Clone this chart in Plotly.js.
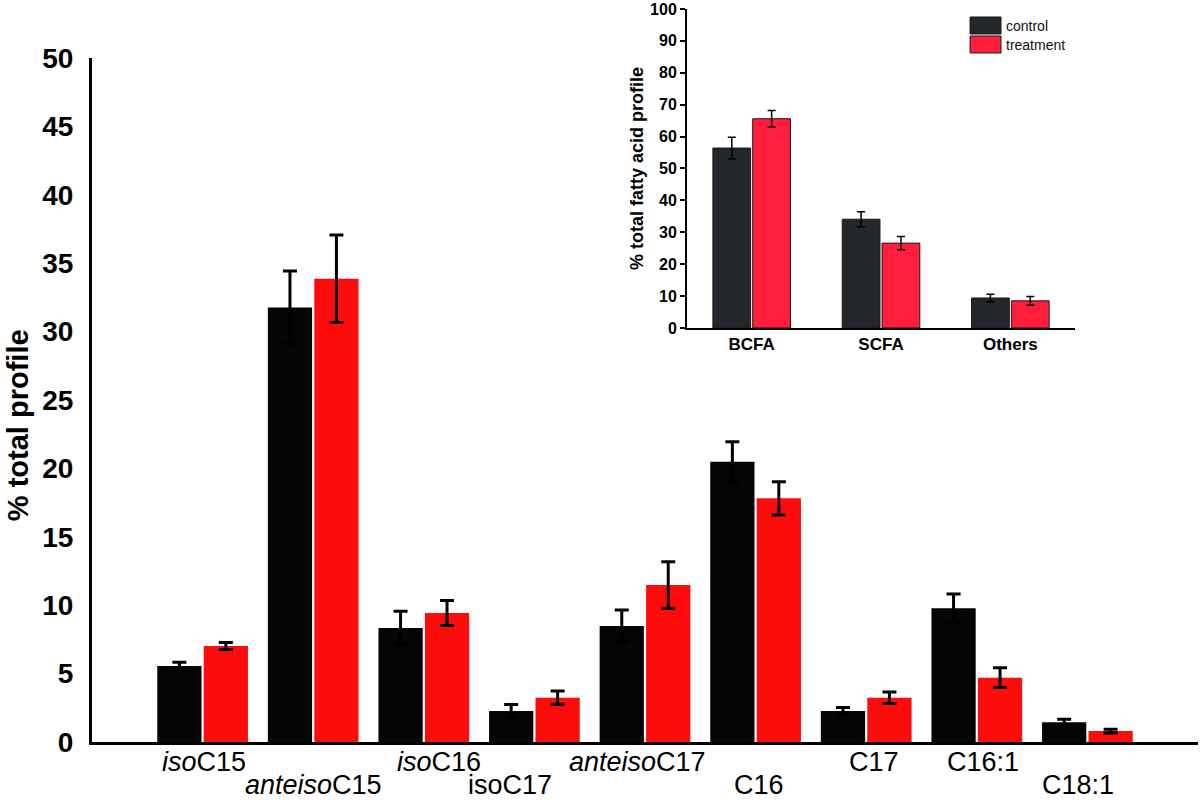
<!DOCTYPE html>
<html>
<head>
<meta charset="utf-8">
<script src="https://cdn.plot.ly/plotly-3.0.1.min.js"></script>
<style>html,body{margin:0;padding:0;background:#fff;}#chart{width:1200px;height:801px;}</style>
</head>
<body>
<div id="chart"></div>
<script>
// ---- main chart data ----
const categories = ['isoC15','anteisoC15','isoC16','isoC17','anteisoC17','C16','C17','C16:1','C18:1'];
const categoryLabels = ['<i>iso</i>C15','<i>anteiso</i>C15','<i>iso</i>C16','isoC17','<i>anteiso</i>C17','C16','C17','C16:1','C18:1'];
const controlValues = [5.56, 31.77, 8.33, 2.27, 8.48, 20.49, 2.27, 9.77, 1.44];
const controlErrors = [0.27, 2.66, 1.22, 0.48, 1.17, 1.46, 0.26, 1.04, 0.22];
const treatmentValues = [7.02, 33.87, 9.43, 3.24, 11.48, 17.81, 3.24, 4.70, 0.80];
const treatmentErrors = [0.26, 3.20, 0.92, 0.48, 1.70, 1.22, 0.42, 0.72, 0.14];
const yTickValues = [0, 5, 10, 15, 20, 25, 30, 35, 40, 45, 50];
const yTitle = '% total profile';

// ---- inset data ----
const insetCategories = ['BCFA','SCFA','Others'];
const insetControl = [56.4, 34.1, 9.4];
const insetControlErr = [3.4, 2.35, 1.15];
const insetTreatment = [65.6, 26.6, 8.5];
const insetTreatmentErr = [2.6, 2.1, 1.4];
const insetTickValues = [0, 10, 20, 30, 40, 50, 60, 70, 80, 90, 100];
const insetYTitle = '% total fatty acid profile';
const seriesNames = ['control', 'treatment'];

// ---- styling ----
const FONT = '"Liberation Sans", Arial, Helvetica, sans-serif';
const labelRows = [1,2,1,2,1,2,1,1,2];
const labelShift = [1, 0, 15, -24, -8, 3, 8, 6, -9];

const traces = [
  {type:'bar', x:categories, y:controlValues, name:seriesNames[0], xaxis:'x', yaxis:'y',
   width:0.4, offset:-0.41, marker:{color:'#050505'}, showlegend:false,
   error_y:{type:'data', array:controlErrors, visible:true, color:'#000', thickness:3, width:7}},
  {type:'bar', x:categories, y:treatmentValues, name:seriesNames[1], xaxis:'x', yaxis:'y',
   width:0.4, offset:0.01, marker:{color:'#fe0b0b'}, showlegend:false,
   error_y:{type:'data', array:treatmentErrors, visible:true, color:'#000', thickness:3, width:7}},
  {type:'bar', x:insetCategories, y:insetControl, name:seriesNames[0], xaxis:'x2', yaxis:'y2',
   width:0.292, offset:-0.30, marker:{color:'#23272b', line:{color:'#1a1a1a', width:1}}, showlegend:false,
   error_y:{type:'data', array:insetControlErr, visible:true, color:'#000', thickness:1.5, width:4}},
  {type:'bar', x:insetCategories, y:insetTreatment, name:seriesNames[1], xaxis:'x2', yaxis:'y2',
   width:0.292, offset:0.008, marker:{color:'#ff1e3c', line:{color:'#1a1a1a', width:1}}, showlegend:false,
   error_y:{type:'data', array:insetTreatmentErr, visible:true, color:'#000', thickness:1.5, width:4}}
];

const annotations = categories.map((c, i) => ({
  x: c, xref:'x', y:0, yref:'paper', yanchor:'middle', xanchor:'center',
  yshift: labelRows[i] === 1 ? -20 : -43, xshift: labelShift[i],
  text: categoryLabels[i], showarrow:false,
  font:{family:FONT, size:27, color:'#000'}
}));
// main y-axis title
annotations.push({x:0, xref:'paper', xshift:-74, y:0.427, yref:'paper', xanchor:'center', yanchor:'middle',
  textangle:-90, text:'<b>' + yTitle + '</b>', showarrow:false, font:{family:FONT, size:29, color:'#000'}});
// legend texts
annotations.push({x:0.8246, xref:'paper', y:0.9656, yref:'paper', xanchor:'left', yanchor:'middle',
  text:seriesNames[0], showarrow:false, font:{family:FONT, size:14, color:'#111'}});
annotations.push({x:0.8246, xref:'paper', y:0.940, yref:'paper', xanchor:'left', yanchor:'middle',
  text:seriesNames[1], showarrow:false, font:{family:FONT, size:14, color:'#111'}});

const shapes = [
  {type:'rect', xref:'paper', yref:'paper', x0:0.7939, x1:0.8219, y0:0.9542, y1:0.9771,
   fillcolor:'#23272b', line:{color:'#1a1a1a', width:1}},
  {type:'rect', xref:'paper', yref:'paper', x0:0.7939, x1:0.8219, y0:0.9286, y1:0.9515,
   fillcolor:'#ff1e3c', line:{color:'#1a1a1a', width:1}}
];

const layout = {
  width:1200, height:801,
  margin:{l:92, r:2, t:0, b:59},
  paper_bgcolor:'#fff', plot_bgcolor:'rgba(0,0,0,0)',
  barmode:'group',
  showlegend:false,
  font:{family:FONT, color:'#000'},
  xaxis:{domain:[0,1], anchor:'y', type:'category', range:[-1, 9], showticklabels:false,
    showline:true, linecolor:'#000', linewidth:3, ticks:'', showgrid:false, zeroline:false, fixedrange:true},
  yaxis:{domain:[0, 0.9218], anchor:'x', range:[0, 50], tickvals:yTickValues, ticktext:yTickValues.map(String), ticks:'',
    showline:true, linecolor:'#000', linewidth:3, showgrid:false, zeroline:false,
    ticklabelstandoff:10, ticklabeloverflow:'allow',
    tickfont:{family:FONT, size:28, color:'#000', weight:'bold'}},
  xaxis2:{domain:[0.538, 0.8888], anchor:'y2', type:'category', range:[-0.5, 2.5],
    showline:true, linecolor:'#000', linewidth:2, ticks:'', showgrid:false, zeroline:false,
    tickfont:{family:FONT, size:17, color:'#000', weight:'bold'}},
  yaxis2:{domain:[0.558, 0.9879], anchor:'x2', range:[0, 100], tickvals:insetTickValues, ticktext:insetTickValues.map(String),
    ticks:'outside', ticklen:5, tickwidth:2, ticklabeloverflow:'allow',
    tickcolor:'#000', showline:true, linecolor:'#000', linewidth:2, showgrid:false, zeroline:false,
    tickfont:{family:FONT, size:16, color:'#000', weight:'bold'},
    title:{text:'<b>' + insetYTitle + '</b>', standoff:2, font:{family:FONT, size:18, color:'#000'}}},
  annotations: annotations,
  shapes: shapes
};

Plotly.newPlot('chart', traces, layout, {displayModeBar:false, staticPlot:true});
</script>
</body>
</html>
